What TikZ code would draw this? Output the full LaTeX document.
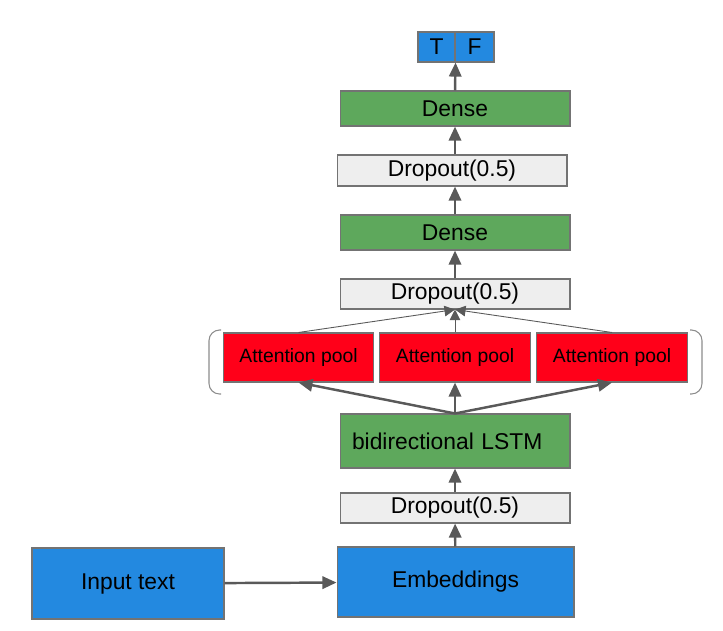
\documentclass[tikz,border=0pt]{standalone}
\usepackage{fontspec}
\setmainfont{Liberation Sans}
\usetikzlibrary{arrows.meta}
\definecolor{tfblue}{HTML}{2389E0}
\definecolor{densegreen}{HTML}{5EA85C}
\definecolor{poolred}{HTML}{FF0019}
\definecolor{droplight}{HTML}{EEEEEE}
\definecolor{arrowgray}{HTML}{595959}
\begin{document}
\begin{tikzpicture}[x=0.02cm,y=-0.02cm,
        box/.style={draw=black!55, line width=0.6pt, inner sep=0pt,
            font=\fontsize{13}{15}\selectfont},
        densebox/.style={box, fill=densegreen, minimum width=4.6cm, minimum height=0.7cm},
        dropbox/.style={box, fill=droplight, minimum width=4.6cm, minimum height=0.6cm},
        bluebox/.style={box, fill=tfblue},
        poolbox/.style={box, fill=poolred, minimum width=3.01cm, minimum height=0.98cm,
            font=\fontsize{11}{13}\selectfont},
        arr/.style={draw=arrowgray, line width=1.4pt, -{Triangle[length=8pt,width=7pt]}},
        thinarr/.style={draw=arrowgray, line width=0.5pt, -{Triangle[length=6pt,width=6pt]}},
        bracket/.style={draw=black!45, line width=0.6pt, rounded corners=6}]
        \useasboundingbox (0,0) rectangle (723,630);
        % input and embedding
        \node[bluebox, minimum width=3.84cm, minimum height=1.42cm] (input) at (128,583.5) {Input text};
        \node[bluebox, minimum width=4.74cm, minimum height=1.4cm] (emb) at (455.5,582) {Embeddings};
        \node[dropbox] (dropA) at (455,508) {Dropout(0.5)};
        \node[densebox, minimum height=1.08cm, text width=4.12cm, inner xsep=0.24cm, align=left]
            (lstm) at (455,441) {bidirectional LSTM};
        % attention pools
        \foreach \x/\n in {298.5/1,455/2,612/3} {
            \node[poolbox] (pool\n) at (\x,357.5) {Attention pool};
        }
        \draw[bracket] (221,330) -- (209,330) -- (209,394) -- (221,394);
        \draw[bracket] (690,330) -- (702,330) -- (702,394) -- (690,394);
        % top layers
        \node[dropbox] (dropB) at (455,294) {Dropout(0.5)};
        \node[densebox] (denseA) at (455,232.5) {Dense};
        \node[dropbox, minimum height=0.62cm] (dropC) at (452,170.5) {Dropout(0.5)};
        \node[densebox] (denseB) at (455,108.5) {Dense};
        \node[bluebox, minimum width=0.74cm, minimum height=0.6cm] (T) at (436.5,47) {T};
        \node[bluebox, minimum width=0.78cm, minimum height=0.6cm] (F) at (474.5,47) {F};
        % connectors
        \draw[arr] (input) -- (emb);
        \draw[arr] (emb) -- (dropA);
        \draw[arr] (dropA) -- (lstm);
        \foreach \n in {1,2,3} {
            \draw[arr] (lstm.north) -- (pool\n.south);
            \draw[thinarr] (pool\n.north) -- (dropB.south);
        }
        \draw[arr] (dropB) -- (denseA);
        \draw[arr] (denseA.north) -- (denseA.north |- dropC.south);
        \draw[arr] (denseA.north |- dropC.north) -- (denseB.south);
        \draw[arr] (denseB.north) -- (T.south east);
\end{tikzpicture}
\end{document}
